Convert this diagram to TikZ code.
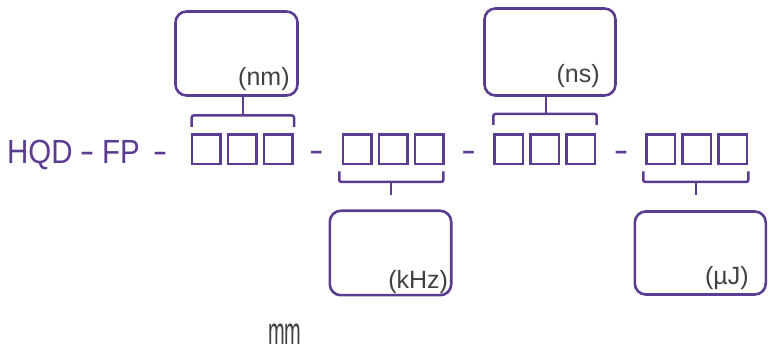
\documentclass[tikz,border=0pt]{standalone}
\usepackage{fontspec}
\setmainfont{Liberation Sans}
\newfontfamily\condfont[FakeStretch=0.88]{Liberation Sans}
\newfontfamily\dashfont[FakeStretch=1.3]{Liberation Sans}
\newfontfamily\mmfont[FakeStretch=0.5]{Liberation Sans}
\definecolor{pur}{RGB}{92,60,145}
\definecolor{txt}{RGB}{64,64,64}
\begin{document}
\begin{tikzpicture}[x=1pt,y=-1pt,
  sq/.style={draw=pur,line width=2.6pt,minimum width=28.4pt,minimum height=29.4pt,inner sep=0pt,outer sep=0pt},
  lbox/.style={draw=pur,line width=2.6pt,rounded corners=11pt,inner sep=0pt,outer sep=0pt},
  brk/.style={draw=pur,line width=2.5pt,rounded corners=2pt},
  stem/.style={draw=pur,line width=2.5pt},
  unit/.style={font=\fontsize{25}{30}\selectfont,text=txt,inner sep=0pt,anchor=base east},
  code/.style={font=\condfont\fontsize{33.5}{40}\selectfont,text=pur,inner sep=0pt,anchor=base west},
  dashmark/.style={font=\dashfont\fontsize{33.5}{40}\selectfont,text=pur,inner sep=0pt,anchor=base}]
\useasboundingbox (0,0) rectangle (768,344);

% code text
\node[code] (hqd) at (7,163.3) {HQD};
\node[dashmark] (d1) at (87.2,163.0) {-};
\node[code] (fp) at (101.9,163.3) {FP};
\node[dashmark] (d2) at (160,162.4) {-};
\node[dashmark] (d3) at (316.3,161.9) {-};
\node[dashmark] (d4) at (468.7,161.9) {-};
\node[dashmark] (d5) at (621.2,161.9) {-};

% squares
\foreach \g/\x in {1/206.2,2/357,3/508.8,4/660.8}{
  \node[sq] (s\g a) at (\x,149.2) {};
  \node[sq] (s\g b) at (\x+36,149.2) {};
  \node[sq] (s\g c) at (\x+72,149.2) {};
}

% label boxes
\node[lbox,minimum width=122pt,minimum height=84pt] (bnm) at (236.5,53.5) {};
\node[lbox,minimum width=131pt,minimum height=87pt] (bns) at (550,52) {};
\node[lbox,minimum width=121.4pt,minimum height=84.4pt] (bkhz) at (390.5,253) {};
\node[lbox,minimum width=131pt,minimum height=83pt] (buj) at (700.3,253) {};

% unit texts
\node[unit] (tnm) at (289.8,85.6) {(nm)};
\node[unit] (tns) at (599.8,82.2) {(ns)};
\node[unit] (tkhz) at (448.2,289) {(kHz)};
\node[unit] (tuj) at (748.8,285) {(µJ)};

% brackets and stems
\coordinate (t1) at (243,115.5);
\draw[brk] (191.7,127) -- (191.7,115.5) -- (294,115.5) -- (294,127);
\draw[stem] (bnm.south -| t1) -- (t1);

\coordinate (t3) at (546,114);
\draw[brk] (493.3,125) -- (493.3,114) -- (596.7,114) -- (596.7,125);
\draw[stem] (bns.south -| t3) -- (t3);

\coordinate (t2) at (391,182);
\coordinate (e2) at (391,195);
\draw[brk] (339.3,171.5) -- (339.3,182) -- (443.3,182) -- (443.3,171.5);
\draw[stem] (t2) -- (e2);

\coordinate (t4) at (696,182);
\coordinate (e4) at (696,195);
\draw[brk] (643.3,171.5) -- (643.3,182) -- (748.3,182) -- (748.3,171.5);
\draw[stem] (t4) -- (e4);

% partial bottom text
\node[font=\mmfont\fontsize{40}{48}\selectfont,text=txt,inner sep=0pt,anchor=base west] (mm) at (268,345.8) {mm};
\end{tikzpicture}
\end{document}
